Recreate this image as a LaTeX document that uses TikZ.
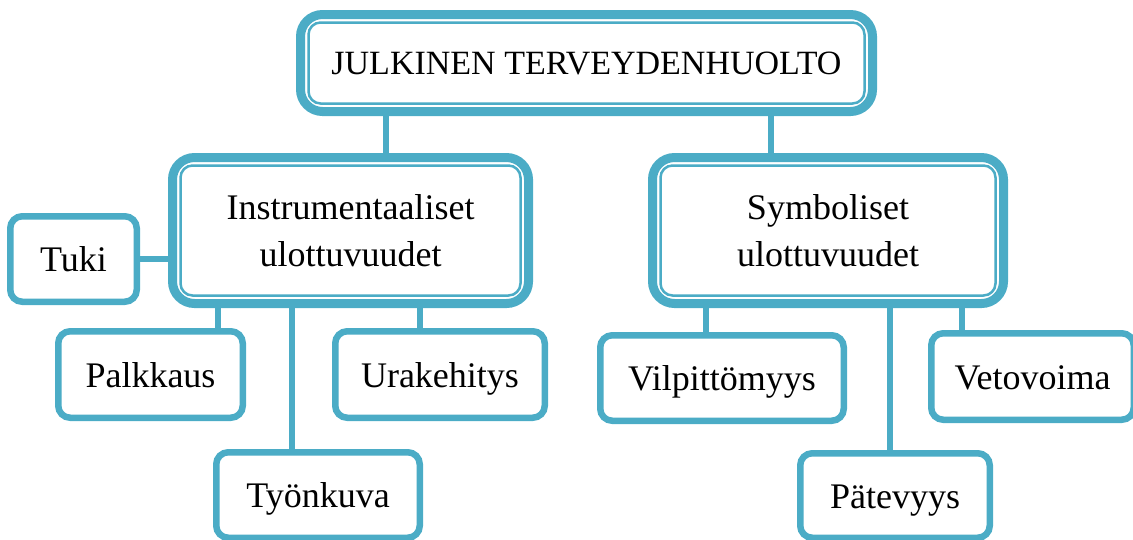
\documentclass[tikz,border=0pt]{standalone}
\usepackage{fontspec}
\setmainfont{Liberation Serif}
\usepackage{xcolor}
\definecolor{aqua}{RGB}{75,172,198}

\tikzset{
  bigbox/.style={draw=aqua, line width=9pt, fill=white, rounded corners=22pt,
    align=center, font=\fontsize{36}{47}\selectfont},
  smallbox/.style={draw=aqua, line width=6.5pt, fill=white, rounded corners=12pt,
    font=\fontsize{36}{40}\selectfont, text height=27pt, text depth=2pt},
  innerline/.style={draw=aqua, line width=2.5pt, rounded corners=12pt},
  link/.style={draw=aqua, line width=6.5pt}
}

\begin{document}
\begin{tikzpicture}[x=1pt, y=-1pt]
  % page frame
  \useasboundingbox (0,0) rectangle (1133,539);

  % top level
  \node[bigbox, minimum width=572pt, minimum height=97pt,
        font=\fontsize{34}{40}\selectfont] (title) at (586.5,63) {JULKINEN TERVEYDENHUOLTO};

  % the two dimensions
  \node[bigbox, minimum width=356pt, minimum height=146pt] (instr) at (350.5,230.5)
    {Instrumentaaliset\\ulottuvuudet};
  \node[bigbox, minimum width=351pt, minimum height=146pt] (symb) at (828,230.5)
    {Symboliset\\ulottuvuudet};

  % inner thin frames (anchors sit on the outer edge of the thick line)
  \foreach \n in {title,instr,symb}
    \draw[innerline] ([shift={(12.5,12.5)}]\n.north west) rectangle ([shift={(-12.5,-12.5)}]\n.south east);

  % leaves
  \node[smallbox, minimum width=126.5pt, minimum height=85.5pt] (tuki) at (73.5,259) {Tuki};
  \node[smallbox, minimum width=184.5pt, minimum height=86.5pt] (palkkaus) at (150.5,374.5) {Palkkaus};
  \node[smallbox, minimum width=209.5pt, minimum height=86.5pt] (urakehitys) at (440,374.5) {Urakehitys};
  \node[smallbox, minimum width=203.5pt, minimum height=85.5pt] (tyonkuva) at (318,495) {Työnkuva};
  \node[smallbox, minimum width=243.5pt, minimum height=85.5pt] (vilpitt) at (722,378) {Vilpittömyys};
  \node[smallbox, minimum width=202.5pt, minimum height=86.5pt] (vetovoima) at (1032.5,376.5) {Vetovoima};
  \node[smallbox, minimum width=189.5pt, minimum height=84.5pt] (patevyys) at (895,495.5) {Pätevyys};

  % connectors
  \draw[link] ([xshift=35.5pt]instr.north) -- ([xshift=35.5pt]instr.north |- title.south);
  \draw[link] ([xshift=-57pt]symb.north) -- ([xshift=-57pt]symb.north |- title.south);
  \draw[link] (tuki.east) -- (tuki.east -| instr.west);
  \foreach \kid/\dx/\parent in {palkkaus/67.5/instr, tyonkuva/-26/instr, urakehitys/-20/instr,
      vilpitt/-16/symb, patevyys/-5/symb, vetovoima/-70.5/symb}
    \draw[link] ([xshift=\dx pt]\kid.north) -- ([xshift=\dx pt]\kid.north |- \parent.south);
\end{tikzpicture}
\end{document}
